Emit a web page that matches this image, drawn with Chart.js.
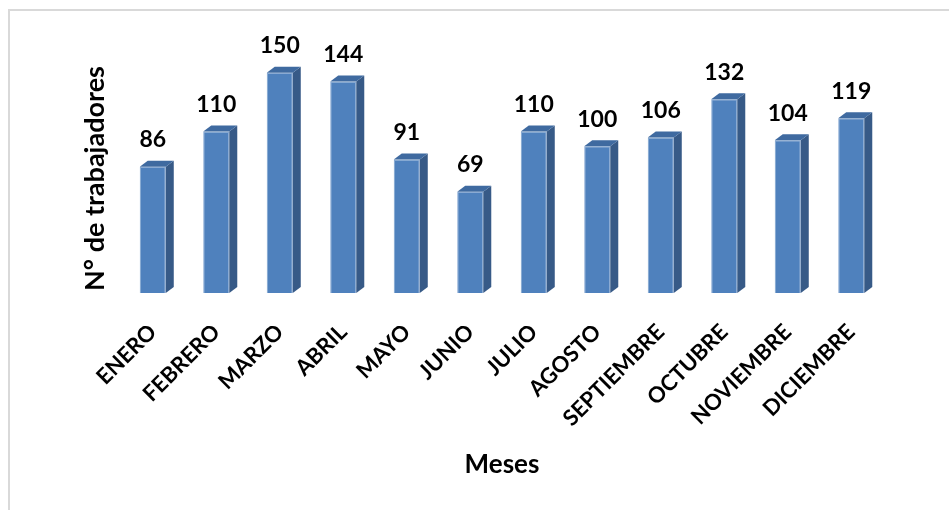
<!DOCTYPE html>
<html>
<head>
<meta charset="utf-8">
<script src="https://cdn.jsdelivr.net/npm/chart.js@4/dist/chart.umd.min.js"></script>
<style>
  html, body { margin: 0; padding: 0; background: #fff; }
  #wrap { width: 949px; height: 510px; }
</style>
</head>
<body>
<div id="wrap"><canvas id="myChart" width="949" height="510"></canvas></div>
<script>
const meses = ['ENERO', 'FEBRERO', 'MARZO', 'ABRIL', 'MAYO', 'JUNIO', 'JULIO',
  'AGOSTO', 'SEPTIEMBRE', 'OCTUBRE', 'NOVIEMBRE', 'DICIEMBRE'];
const trabajadores = [86, 110, 150, 144, 91, 69, 110, 100, 106, 132, 104, 119];

const FONT = 'Lato, "Open Sans", sans-serif';

// marco gris claro alrededor del grafico
const marco = {
  id: 'marco',
  beforeDraw(chart) {
    const ctx = chart.ctx;
    ctx.save();
    ctx.fillStyle = '#fff';
    ctx.fillRect(0, 0, chart.width, chart.height);
    ctx.strokeStyle = '#d9d9d9';
    ctx.lineWidth = 2;
    ctx.strokeRect(9, 10, chart.width + 20, chart.height + 20);
    ctx.restore();
  }
};

// caras laterales y superiores para el efecto 3D, mas etiquetas de valor
const barras3d = {
  id: 'barras3d',
  afterDatasetsDraw(chart) {
    const ctx = chart.ctx;
    const meta = chart.getDatasetMeta(0);
    const dx = 8, dy = 6;
    ctx.save();
    meta.data.forEach((bar, i) => {
      const {x, y, base, width} = bar.getProps(['x', 'y', 'base', 'width'], true);
      const l = x - width / 2, r = x + width / 2;
      // lateral
      ctx.fillStyle = '#375a87';
      ctx.beginPath();
      ctx.moveTo(r, y);
      ctx.lineTo(r + dx, y - dy);
      ctx.lineTo(r + dx, base - dy);
      ctx.lineTo(r, base);
      ctx.closePath();
      ctx.fill();
      // superior
      ctx.fillStyle = '#3f6aa0';
      ctx.beginPath();
      ctx.moveTo(l, y);
      ctx.lineTo(l + dx, y - dy);
      ctx.lineTo(r + dx, y - dy);
      ctx.lineTo(r, y);
      ctx.closePath();
      ctx.fill();
      // valor
      ctx.fillStyle = '#000';
      ctx.font = 'bold 23px ' + FONT;
      ctx.textAlign = 'center';
      ctx.textBaseline = 'middle';
      ctx.fillText(String(trabajadores[i]), x, y - 27);
    });
    ctx.restore();
  }
};

const ctx = document.getElementById('myChart').getContext('2d');
const grafico = new Chart(ctx, {
  type: 'bar',
  data: {
    labels: meses,
    datasets: [{
      data: trabajadores,
      backgroundColor: '#4f81bd',
      borderColor: '#7fa3d0',
      borderWidth: 1,
      barPercentage: 0.41,
      categoryPercentage: 1,
    }],
  },
  options: {
    responsive: false,
    animation: false,
    layout: { padding: { left: 75, right: 66, top: 64, bottom: 26 } },
    plugins: {
      legend: { display: false },
      tooltip: { enabled: false },
    },
    scales: {
      x: {
        grid: { display: false, drawTicks: false },
        border: { display: false },
        ticks: {
          minRotation: 45,
          maxRotation: 45,
          autoSkip: false,
          padding: 26,
          color: '#000',
          font: { family: FONT, size: 22, weight: 'bold' },
        },
        title: {
          display: true,
          text: 'Meses',
          color: '#000',
          font: { family: FONT, size: 26, weight: 'bold' },
        },
        afterFit(scale) { scale.height = 191; },
      },
      y: {
        min: 0,
        max: 156,
        grid: { display: false, drawTicks: false },
        border: { display: false },
        ticks: { display: false },
        title: {
          display: true,
          text: 'N° de trabajadores',
          color: '#000',
          font: { family: FONT, size: 27, weight: 'bold' },
        },
        afterFit(scale) { scale.width = 46; },
      },
    },
  },
  plugins: [marco, barras3d],
});
</script>
</body>
</html>
